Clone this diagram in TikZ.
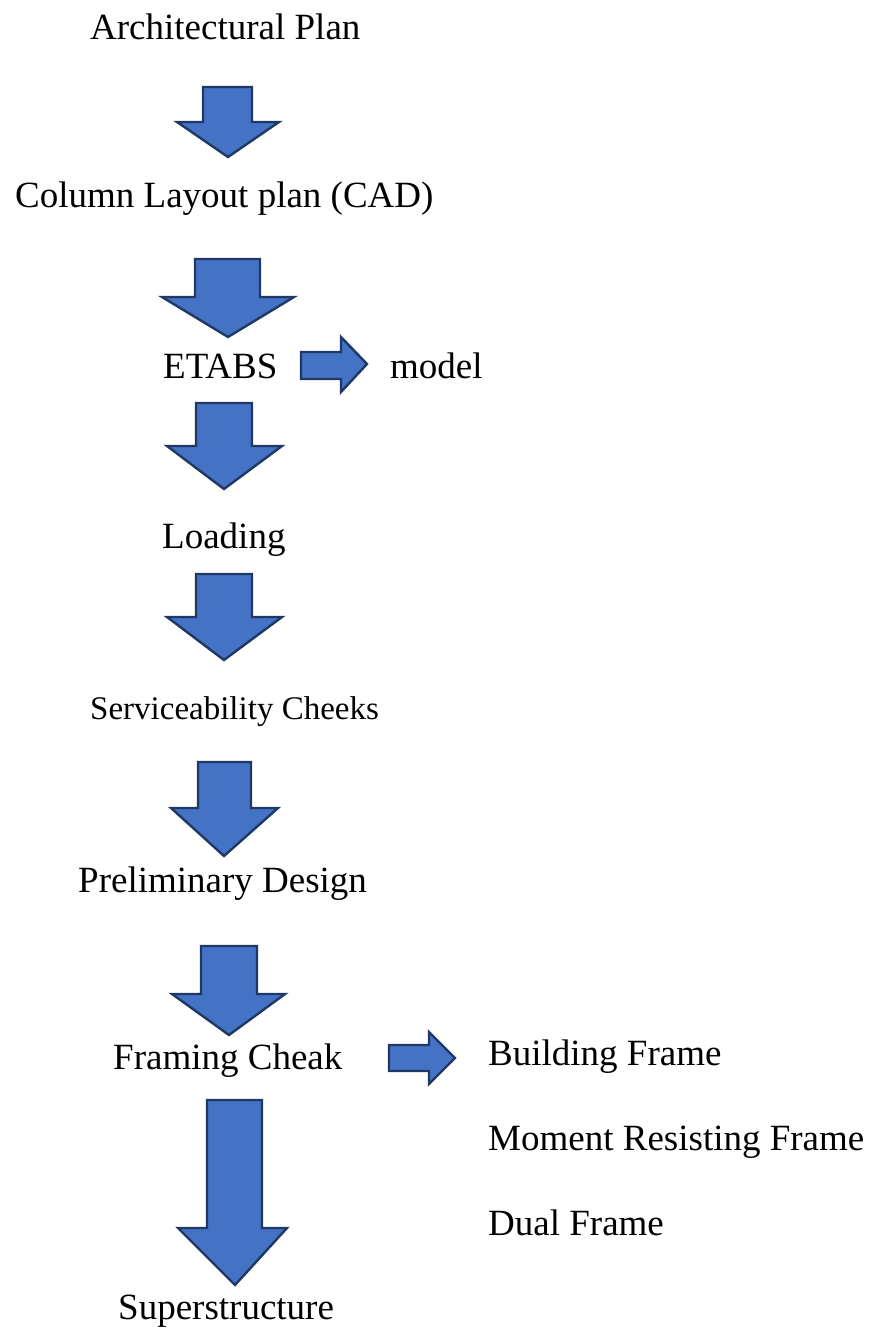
\documentclass[tikz,border=0pt]{standalone}
\usepackage{fontspec}
\setmainfont{Liberation Serif}
\definecolor{arrowfill}{HTML}{4472C4}
\definecolor{arrowline}{HTML}{1F3864}
\tikzset{
  blockarrow/.style={fill=arrowfill, draw=arrowline, line width=2.4pt, line join=miter},
  lbl/.style={anchor=base west, inner sep=0pt, font=\fontsize{37}{44}\selectfont}
}
% down arrow: shaft left, shaft right, top, head top, head left, head right, tip y, tip x
\newcommand\blkdown[8]{\draw[blockarrow] (#1,#3) -- (#2,#3) -- (#2,#4) -- (#6,#4) -- (#8,#7) -- (#5,#4) -- (#1,#4) -- cycle;}
% right arrow: shaft left, head start x, shaft top, shaft bottom, head top, head bottom, tip x, tip y
\newcommand\blkright[8]{\draw[blockarrow] (#1,#3) -- (#2,#3) -- (#2,#5) -- (#7,#8) -- (#2,#6) -- (#2,#4) -- (#1,#4) -- cycle;}
\begin{document}
\begin{tikzpicture}[x=1pt,y=-1pt]
\useasboundingbox (0,0) rectangle (882,1330);
% labels
\node[lbl] (arch) at (90,40) {Architectural Plan};
\node[lbl] (col) at (15,207) {Column Layout plan (CAD)};
\node[lbl] (etabs) at (163,378) {ETABS};
\node[lbl] (model) at (390,378) {model};
\node[lbl] (load) at (162,548) {Loading};
\node[lbl, font=\fontsize{33}{40}\selectfont] (serv) at (90,719) {Serviceability Cheeks};
\node[lbl] (prel) at (78,892) {Preliminary Design};
\node[lbl] (fram) at (113,1069) {Framing Cheak};
\node[lbl] (bf) at (488,1065) {Building Frame};
\node[lbl] (mrf) at (488,1150) {Moment Resisting Frame};
\node[lbl] (df) at (488,1235) {Dual Frame};
\node[lbl] (sup) at (118,1319) {Superstructure};
% block arrows
\blkdown{203}{252}{87}{122}{177}{279}{157}{228}
\blkdown{195}{260}{259}{297}{162}{294}{337}{228}
\blkdown{196}{252}{403}{446}{167}{282}{489}{224}
\blkdown{196}{252}{574}{617}{167}{282}{660}{224}
\blkdown{198}{251}{762}{808}{171}{278}{856}{224}
\blkdown{201}{257}{946}{994}{172}{285}{1035}{229}
\blkdown{207}{262}{1100}{1228}{178}{287}{1285}{235}
\blkright{301}{341}{352}{379}{337}{392}{367}{364}
\blkright{389}{429}{1045}{1071}{1032}{1084}{455}{1058}
\end{tikzpicture}
\end{document}
